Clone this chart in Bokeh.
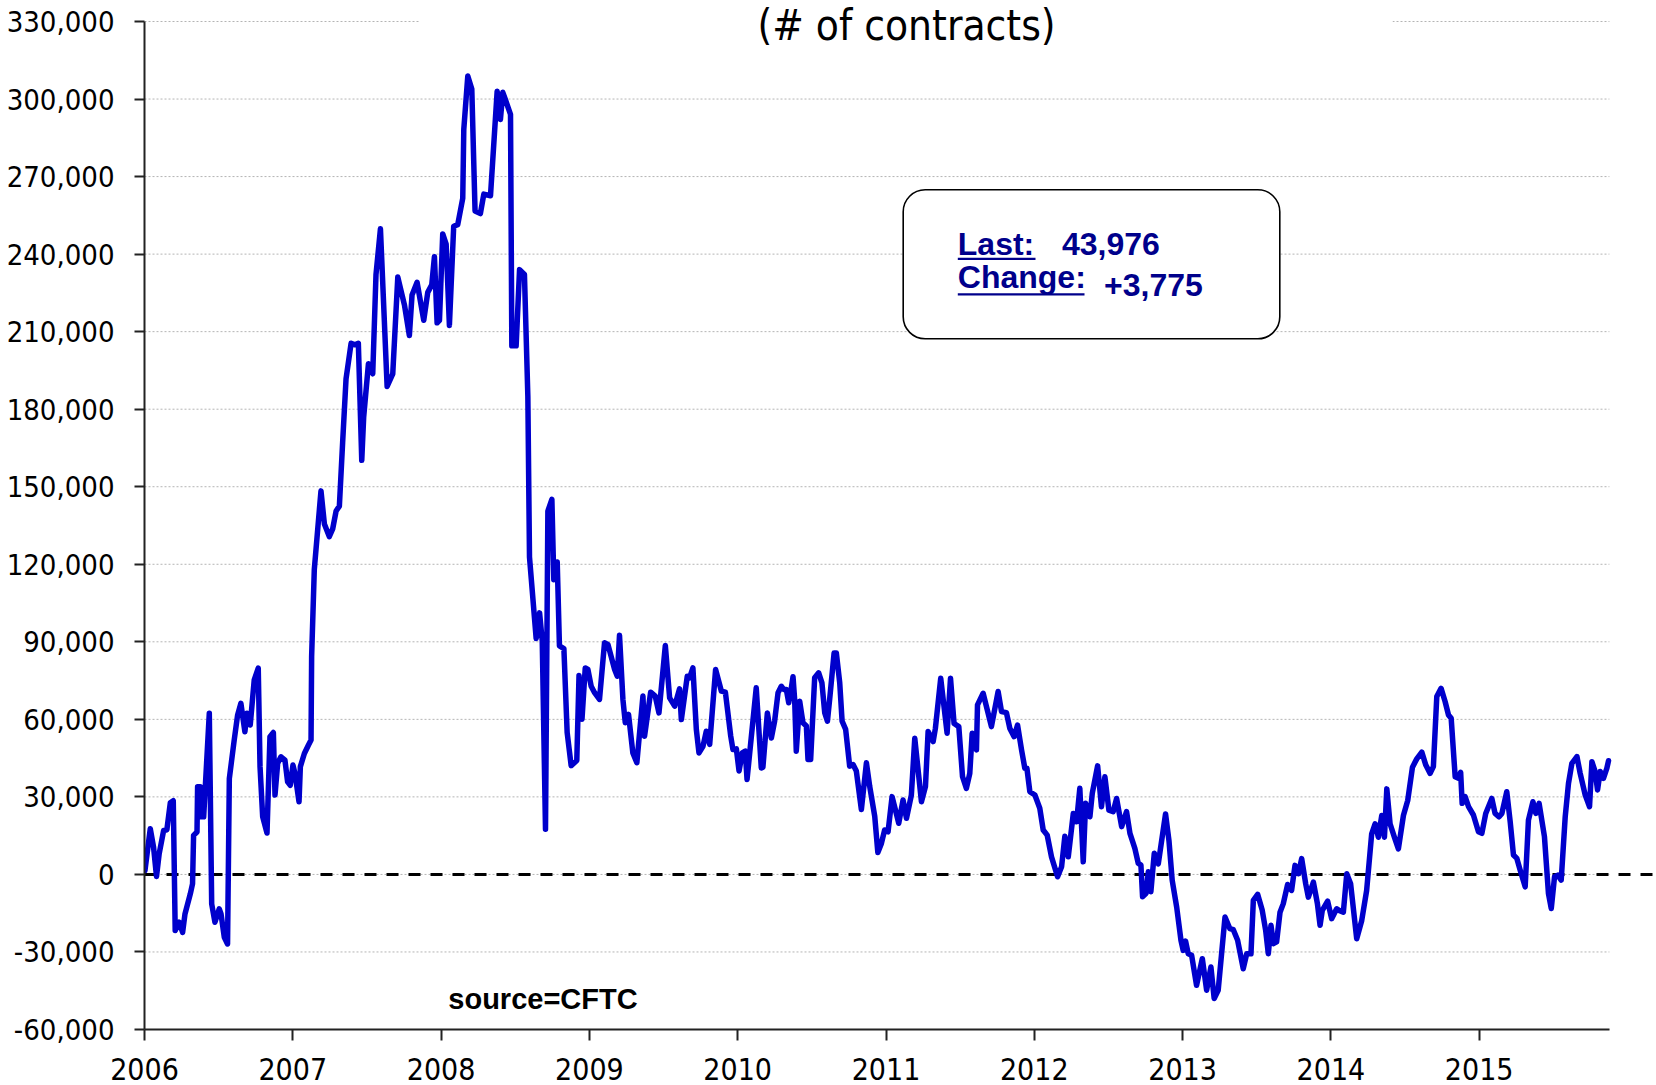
from bokeh.plotting import figure
from bokeh.models import (Range1d, FixedTicker, NumeralTickFormatter, BoxAnnotation, Label)
from bokeh.embed import file_html
from bokeh.resources import INLINE

# ---------------- data ----------------
years = [
    2006.003, 2006.039, 2006.061, 2006.081, 2006.099, 2006.129, 2006.151, 2006.174, 2006.194, 2006.207,
    2006.234, 2006.257, 2006.273, 2006.309, 2006.324, 2006.331, 2006.354, 2006.358, 2006.376, 2006.385,
    2006.399, 2006.437, 2006.453, 2006.475, 2006.504, 2006.516, 2006.538, 2006.560, 2006.572, 2006.605,
    2006.628, 2006.650, 2006.677, 2006.691, 2006.713, 2006.740, 2006.767, 2006.779, 2006.797, 2006.826,
    2006.846, 2006.869, 2006.880, 2006.898, 2006.920, 2006.947, 2006.965, 2006.983, 2007.001, 2007.015,
    2007.042, 2007.051, 2007.078, 2007.105, 2007.123,
    2007.127, 2007.145, 2007.190, 2007.213, 2007.246, 2007.269, 2007.292, 2007.314, 2007.336, 2007.359,
    2007.393, 2007.420, 2007.442, 2007.465, 2007.478, 2007.510, 2007.539, 2007.561, 2007.591, 2007.636,
    2007.674, 2007.708, 2007.753, 2007.786, 2007.804, 2007.838, 2007.883, 2007.910, 2007.937, 2007.955,
    2007.973, 2007.989, 2008.011, 2008.034, 2008.056, 2008.085, 2008.112, 2008.146, 2008.153, 2008.180,
    2008.207, 2008.229, 2008.265, 2008.288, 2008.333, 2008.378, 2008.400, 2008.416, 2008.432, 2008.468,
    2008.477, 2008.506, 2008.529, 2008.562, 2008.585, 2008.596, 2008.641, 2008.664, 2008.682, 2008.704,
    2008.720, 2008.747, 2008.760, 2008.783, 2008.798, 2008.828, 2008.850, 2008.877, 2008.915, 2008.930,
    2008.950, 2008.972, 2008.990, 2009.012, 2009.035, 2009.068, 2009.102, 2009.125, 2009.170, 2009.188,
    2009.203, 2009.226, 2009.242, 2009.264, 2009.293, 2009.320, 2009.361, 2009.372, 2009.413, 2009.444,
    2009.469, 2009.512, 2009.541, 2009.575, 2009.608, 2009.620, 2009.660, 2009.676, 2009.698, 2009.721,
    2009.739, 2009.766, 2009.788, 2009.811, 2009.851, 2009.890, 2009.917, 2009.953, 2009.968, 2009.991,
    2010.009, 2010.031, 2010.051, 2010.063, 2010.125, 2010.159, 2010.170, 2010.200, 2010.227, 2010.249,
    2010.272, 2010.294, 2010.312, 2010.328, 2010.344, 2010.360, 2010.373, 2010.384, 2010.395, 2010.418,
    2010.440, 2010.463, 2010.474, 2010.492, 2010.519, 2010.546, 2010.568, 2010.587, 2010.605, 2010.620,
    2010.650, 2010.665, 2010.688, 2010.704, 2010.728, 2010.755, 2010.778, 2010.800, 2010.834, 2010.868,
    2010.890, 2010.924, 2010.945, 2010.969, 2010.991, 2011.014, 2011.041, 2011.086, 2011.115, 2011.138,
    2011.171, 2011.194, 2011.239, 2011.266, 2011.284, 2011.318, 2011.333, 2011.369, 2011.412, 2011.435,
    2011.459, 2011.491, 2011.516, 2011.542, 2011.565, 2011.581, 2011.610, 2011.617, 2011.655, 2011.711,
    2011.756, 2011.779, 2011.812, 2011.835, 2011.864, 2011.887, 2011.914, 2011.936, 2011.950, 2011.970,
    2012.004, 2012.037, 2012.060, 2012.087, 2012.116, 2012.157, 2012.184, 2012.206, 2012.229, 2012.263,
    2012.285, 2012.307, 2012.330, 2012.346, 2012.375, 2012.391, 2012.427, 2012.453, 2012.476, 2012.503,
    2012.532, 2012.555, 2012.589, 2012.622, 2012.645, 2012.678, 2012.701, 2012.719, 2012.730, 2012.753,
    2012.769, 2012.786, 2012.809, 2012.836, 2012.885, 2012.908, 2012.930, 2012.960, 2012.989, 2013.004,
    2013.020, 2013.038, 2013.061, 2013.094, 2013.133, 2013.162, 2013.191, 2013.213, 2013.240, 2013.286,
    2013.319, 2013.342, 2013.371, 2013.409, 2013.432, 2013.461, 2013.477, 2013.506, 2013.537, 2013.560,
    2013.578, 2013.596, 2013.612, 2013.634, 2013.657, 2013.679, 2013.708, 2013.735, 2013.758, 2013.781,
    2013.803, 2013.830, 2013.848, 2013.882, 2013.909, 2013.927, 2013.942, 2013.978, 2014.005, 2014.039,
    2014.055, 2014.084, 2014.107, 2014.133, 2014.174, 2014.208, 2014.241, 2014.275, 2014.298, 2014.320,
    2014.343, 2014.361, 2014.377, 2014.399, 2014.428, 2014.455, 2014.489, 2014.518, 2014.550, 2014.579,
    2014.613, 2014.640, 2014.669, 2014.691, 2014.714, 2014.743, 2014.770, 2014.793, 2014.811, 2014.838,
    2014.860, 2014.875, 2014.885, 2014.905, 2014.928, 2014.961, 2014.995, 2015.018, 2015.044, 2015.085,
    2015.107, 2015.134, 2015.153, 2015.186, 2015.209, 2015.231, 2015.254, 2015.276, 2015.310, 2015.332,
    2015.362, 2015.382, 2015.404, 2015.440, 2015.467, 2015.486, 2015.508, 2015.530, 2015.553, 2015.580,
    2015.602, 2015.625, 2015.659, 2015.681, 2015.715, 2015.744, 2015.760, 2015.782, 2015.798, 2015.816,
    2015.838, 2015.861, 2015.872,
]

net_k = [
    1.5, 17.7, 10.6, -0.8, 8.0, 17.0, 17.3, 27.7, 28.5, -21.7,
    -18.5, -22.4, -15.3, -7.5, -3.6, 15.1, 16.4, 33.9, 33.9, 22.3,
    22.3, 62.4, -11.4, -18.5, -13.3, -15.3, -24.3, -26.9, 37.1, 52.0,
    61.7, 66.2, 55.2, 62.4, 57.8, 75.3, 79.8, 41.7, 22.3, 16.0,
    53.3, 54.9, 30.7, 43.0, 45.5, 44.2, 35.8, 34.5, 42.3, 39.0,
    28.1, 41.7, 46.8, 50.0, 52.0,
    84.4, 118.0, 148.4, 135.6, 130.7, 133.7, 140.6, 142.5, 167.1, 191.7,
    205.5, 204.9, 205.5, 160.2, 177.0, 197.6, 193.7, 232.1, 249.8, 188.8,
    193.7, 231.1, 220.3, 208.5, 224.2, 229.1, 214.4, 225.2, 228.1, 239.0,
    213.4, 214.4, 247.8, 243.9, 212.4, 250.8, 251.4, 261.6, 288.2, 308.9,
    303.9, 256.7, 255.7, 263.2, 262.6, 303.0, 292.1, 302.6, 300.0, 294.1,
    204.5, 204.5, 234.0, 232.1, 184.8, 122.8, 91.3, 101.2, 90.4, 17.5,
    140.6, 145.1, 114.0, 120.9, 88.4, 87.4, 54.9, 42.1, 44.1, 77.0,
    60.0, 79.9, 79.3, 72.8, 70.3, 67.7, 89.6, 89.0, 79.3, 76.7,
    92.5, 67.7, 58.7, 61.9, 47.0, 43.2, 69.0, 53.5, 70.5, 69.0,
    62.5, 88.6, 68.3, 65.1, 71.8, 59.9, 76.7, 76.1, 79.9, 56.1,
    47.0, 49.6, 55.4, 50.3, 79.3, 70.9, 70.5, 53.5, 48.3, 48.6,
    40.0, 47.0, 47.7, 36.7, 72.2, 41.2, 41.5, 62.5, 52.8, 59.3,
    70.3, 72.8, 71.5, 71.5, 66.4, 71.5, 76.5, 67.7, 47.7, 67.0,
    58.7, 57.4, 44.5, 44.5, 76.1, 78.0, 74.1, 62.5, 59.3, 67.7,
    85.7, 85.7, 74.1, 59.3, 56.1, 41.9, 42.5, 40.0, 25.1, 43.2,
    34.1, 22.5, 8.5, 12.0, 17.2, 16.5, 30.1, 19.8, 28.8, 21.7,
    30.7, 52.7, 28.1, 34.0, 55.3, 51.4, 56.5, 75.9, 54.6, 75.9,
    58.4, 57.2, 37.8, 33.3, 39.1, 54.6, 48.2, 65.6, 70.1, 57.2,
    70.8, 63.0, 62.6, 56.5, 53.3, 57.8, 48.2, 41.1, 41.1, 32.0,
    30.7, 25.6, 17.2, 15.2, 6.8, -0.9, 3.0, 14.8, 6.8, 23.6,
    20.4, 33.3, 4.9, 27.5, 22.3, 31.4, 42.0, 26.2, 37.8, 24.9,
    24.3, 29.4, 18.5, 24.3, 15.9, 10.1, 4.3, 3.6, -8.6, -7.4,
    1.0, -6.7, 8.2, 4.1, 23.4, 13.1, -2.3, -12.6, -25.5, -29.4,
    -25.8, -30.7, -31.3, -42.9, -32.6, -44.8, -35.8, -48.0, -44.8, -16.5,
    -21.0, -21.4, -25.5, -36.5, -30.7, -30.7, -10.0, -7.7, -13.9, -21.6,
    -30.7, -19.7, -26.8, -26.1, -14.6, -11.3, -3.9, -6.2, 3.5, 0.3,
    6.1, -3.6, -8.8, -3.0, -11.3, -19.7, -13.9, -10.3, -17.1, -13.3,
    -13.9, -14.6, 0.3, -3.6, -24.9, -17.8, -6.2, 15.7, 19.6, 14.4,
    22.8, 14.4, 33.1, 19.6, 14.4, 9.9, 22.8, 28.6, 41.5, 44.7,
    47.3, 42.3, 39.1, 41.7, 68.8, 72.0, 66.9, 61.7, 60.4, 37.8,
    37.2, 39.5, 27.5, 30.1, 26.2, 23.0, 16.5, 15.9, 23.6, 29.4,
    23.6, 22.3, 23.6, 32.0, 20.4, 7.5, 6.2, 1.7, -4.8, 21.0,
    28.1, 23.6, 27.5, 14.6, -7.4, -13.2, -0.9, -0.3, -2.2, 22.3,
    35.2, 43.0, 45.6, 39.1, 30.7, 26.2, 43.6, 39.8, 32.7, 39.8,
    37.2, 41.1, 43.976,
]

y_ticks = [-60000, -30000, 0, 30000, 60000, 90000, 120000, 150000,
           180000, 210000, 240000, 270000, 300000, 330000]
x_ticks = [2006, 2007, 2008, 2009, 2010, 2011, 2012, 2013, 2014, 2015]
title_text = "(# of contracts)"
source_text = "source=CFTC"
last_label = "Last:"
change_label = "Change:"
last_value = 43976
change_value = 3775

net = [v * 1000 for v in net_k]

# ---------------- geometry ----------------
W, H = 1656, 1085
FL, FB = 144, 1029                   # frame left / bottom in page px (frame top = page top)
AX_TOP_PX = 21                       # page px of the top of the value axis (330,000)
X0 = 2006.0
PXY = 148.3                          # px per year
X_AXIS_END = 2015.878
X_END = X0 + (W - FL) / PXY
Y0, Y1 = -60000, 330000
VPP = (Y1 - Y0) / (FB - AX_TOP_PX)   # value per pixel
Y_TOP = Y1 + AX_TOP_PX * VPP         # value at the very top of the frame
TXT_SHIFT = 11                       # compensates the rendered baseline offset of labels


def fx(px):
    """page x-pixel -> year"""
    return X0 + (px - FL) / PXY


def fy(py):
    """page y-pixel -> value"""
    return Y_TOP - py * VPP


def fyt(py):
    """page y-pixel of a text baseline -> value"""
    return fy(py - TXT_SHIFT)


AX_FONT = "DejaVu Sans Condensed"
NAVY = "#00008B"

p = figure(width=W, height=H, x_range=Range1d(X0, X_END), y_range=Range1d(Y0, Y_TOP),
           output_backend="svg", toolbar_location=None,
           min_border_left=FL, min_border_top=0, min_border_bottom=H - FB, min_border_right=0)
p.outline_line_color = None
p.background_fill_color = "white"
p.border_fill_color = "white"
p.xgrid.visible = False
p.ygrid.visible = False

# grid lines (dotted, stop at the end of the x axis)
p.segment(x0=[X0] * len(y_ticks), x1=[X_AXIS_END] * len(y_ticks), y0=y_ticks, y1=y_ticks,
          line_color="#b4b4b4", line_width=1, line_dash="2 2")

# zero reference line, dashed, runs to the right edge
p.segment(x0=[X0], x1=[X_END], y0=[0], y1=[0], line_color="black", line_width=3, line_dash="12 10")

# main series
p.line(years, net, line_color="#0000CC", line_width=5.5, line_join="round", line_cap="round")

# axes
xa = p.xaxis[0]
xa.ticker = FixedTicker(ticks=x_ticks)
xa.formatter = NumeralTickFormatter(format="0")
xa.bounds = (X0, X_AXIS_END)
xa.major_tick_out = 11
xa.major_tick_in = 0
xa.minor_tick_out = 0
xa.minor_tick_in = 0
xa.axis_line_width = 2
xa.axis_line_color = "#222222"
xa.major_tick_line_width = 2
xa.major_tick_line_color = "#222222"
xa.major_label_text_font = AX_FONT
xa.major_label_text_font_size = "30px"
xa.major_label_text_line_height = 0.8
xa.major_label_text_color = "black"
xa.major_label_standoff = 17

ya = p.yaxis[0]
ya.ticker = FixedTicker(ticks=y_ticks)
ya.formatter = NumeralTickFormatter(format="0,0")
ya.bounds = (Y0, Y1)
ya.major_tick_out = 10
ya.major_tick_in = 0
ya.minor_tick_out = 0
ya.minor_tick_in = 0
ya.axis_line_width = 2
ya.axis_line_color = "#222222"
ya.major_tick_line_width = 2
ya.major_tick_line_color = "#222222"
ya.major_label_text_font = AX_FONT
ya.major_label_text_font_size = "29px"
ya.major_label_text_color = "black"
ya.major_label_standoff = 20

# title area (white band interrupting the top grid line)
p.add_layout(BoxAnnotation(left=fx(419), right=fx(1392), bottom=fy(27), top=Y_TOP,
                           fill_color="white", fill_alpha=1.0, line_color=None))
p.add_layout(Label(x=fx(906), y=fyt(36), text=title_text, text_align="center",
                   text_baseline="alphabetic", text_font=AX_FONT, text_font_size="42px",
                   text_color="black"))

# info box
p.add_layout(BoxAnnotation(left=fx(902.7), right=fx(1279.3), top=fy(189.3), bottom=fy(338.3),
                           fill_color="white", fill_alpha=1.0, line_color="black", line_alpha=1.0,
                           line_width=1.6, border_radius=22))
box_font = "Liberation Sans"
for txt, xp, yp in [(last_label, 957.3, 254), (f"{last_value:,}", 1061.5, 254),
                    (change_label, 957.3, 287.3), (f"+{change_value:,}", 1103.5, 295)]:
    p.add_layout(Label(x=fx(xp), y=fyt(yp), text=txt, text_font=box_font,
                       text_font_size="32px", text_font_style="bold", text_color=NAVY,
                       text_baseline="alphabetic"))
# underlines
p.add_layout(BoxAnnotation(left=fx(957.3), right=fx(1035), top=fy(257.3), bottom=fy(259.6),
                           fill_color=NAVY, fill_alpha=1.0, line_color=None))
p.add_layout(BoxAnnotation(left=fx(957.3), right=fx(1084), top=fy(292.7), bottom=fy(295.0),
                           fill_color=NAVY, fill_alpha=1.0, line_color=None))

# source note
p.add_layout(Label(x=fx(447.8), y=fyt(1009), text=source_text, text_font=box_font,
                   text_font_size="29px", text_font_style="bold", text_color="black",
                   text_baseline="alphabetic"))

open("out.html", "w").write(file_html(p, INLINE))
